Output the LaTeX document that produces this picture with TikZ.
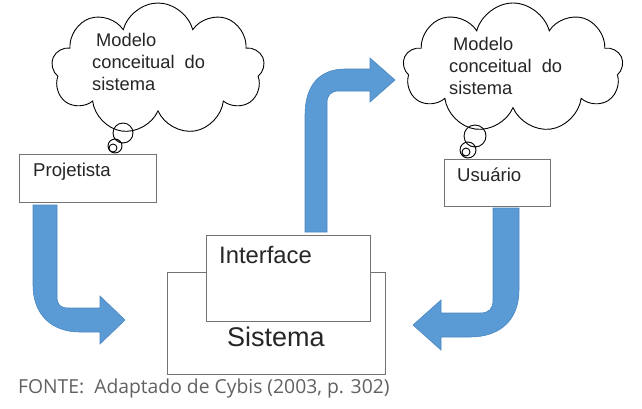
\documentclass[tikz,border=0pt]{standalone}
\usepackage{fontspec}
\setmainfont{Liberation Sans}
\newfontfamily\fontesans{Open Sans}
\usepackage{tikz}
\usetikzlibrary{shapes.symbols,calc}
\definecolor{azulseta}{HTML}{5B9BD5}
\definecolor{bordaseta}{HTML}{4A86C0}

\begin{document}
\begin{tikzpicture}[x=1pt,y=-1pt,
    caixa/.style={draw=black!55, fill=white, line width=1pt, inner sep=0pt, anchor=north west},
    nuvem/.style={cloud, cloud puffs=9, cloud ignores aspect, draw=black, line width=0.9pt, fill=white, inner sep=0pt},
    bolha/.style={draw=black, line width=0.9pt},
    seta/.style={fill=azulseta, draw=bordaseta, line width=0.6pt},
    texto/.style={font=\fontsize{18.3}{22}\selectfont, align=left, anchor=west, inner sep=0pt, text=black!85}]
     \useasboundingbox (0,0) rectangle (642,408);

     % nuvens
     \node[nuvem, minimum width=213pt, minimum height=132pt] (nuvemP) at (158,69) {};
     \node[nuvem, minimum width=220pt, minimum height=130pt] (nuvemU) at (513,68) {};
     \draw[bolha] (123,133) circle (10) (115,146) circle (7) (113,148) circle (4);
     \draw[bolha] (475,136) circle (11) (468,150) circle (8) (466,152) circle (4);
     \node[texto] (modeloP) at (92,62) {\hspace{4pt}Modelo\\conceitual\ \ do\\sistema};
     \node[texto] (modeloU) at (449,66) {\hspace{4pt}Modelo\\conceitual\ \ do\\sistema};

     % caixas
     \node[caixa, minimum width=137pt, minimum height=48pt] (proj) at (19,154) {};
     \node[caixa, minimum width=106pt, minimum height=47pt] (usu) at (444,159) {};
     \node[texto, font=\fontsize{18.6}{22}\selectfont] (projtxt) at ($(proj.north west)+(14,18)$) {Projetista};
     \node[texto, font=\fontsize{18.6}{22}\selectfont] (usutxt) at ($(usu.north west)+(13,16)$) {Usuário};
     \node[caixa, minimum width=218pt, minimum height=102pt] (sist) at (167,272) {};
     \node[caixa, minimum width=164pt, minimum height=86pt] (inter) at (206,235) {};
     \node[texto, font=\fontsize{23.8}{28}\selectfont] (intertxt) at ($(inter.north west)+(13,20)$) {Interface};
     \node[texto, font=\fontsize{27}{32}\selectfont] (sisttxt) at ($(sist.north west)+(60,65)$) {Sistema};

     % setas
     \draw[seta] (33,205) -- (57,205) -- (57,296) .. controls (57,305) and (60,308) .. (69,308)
        -- (100,308) -- (100,296) -- (125,320) -- (100,344) -- (100,332) -- (80,332)
        .. controls (52,332) and (33,315) .. (33,285) -- cycle;
     \draw[seta] (493,208) -- (519,208) -- (519,290) .. controls (519,320) and (500,337) .. (470,337)
        -- (441,337) -- (441,350) -- (413,325) -- (441,300) -- (441,313) -- (480,313)
        .. controls (489,313) and (493,309) .. (493,300) -- cycle;
     \draw[seta] (305,232) -- (305,115) .. controls (305,85) and (320,69) .. (345,69)
        -- (370,69) -- (370,58) -- (395,80) -- (370,102) -- (370,91) -- (339,91)
        .. controls (331,91) and (327,95) .. (327,103) -- (327,232) -- cycle;

     \node[anchor=west, inner sep=0pt, font=\fontesans\fontsize{19.3}{23}\selectfont, text=black!62] (fonte) at (18,388) {FONTE:\ \ Adaptado de Cybis (2003, p. 302)};
\end{tikzpicture}
\end{document}
